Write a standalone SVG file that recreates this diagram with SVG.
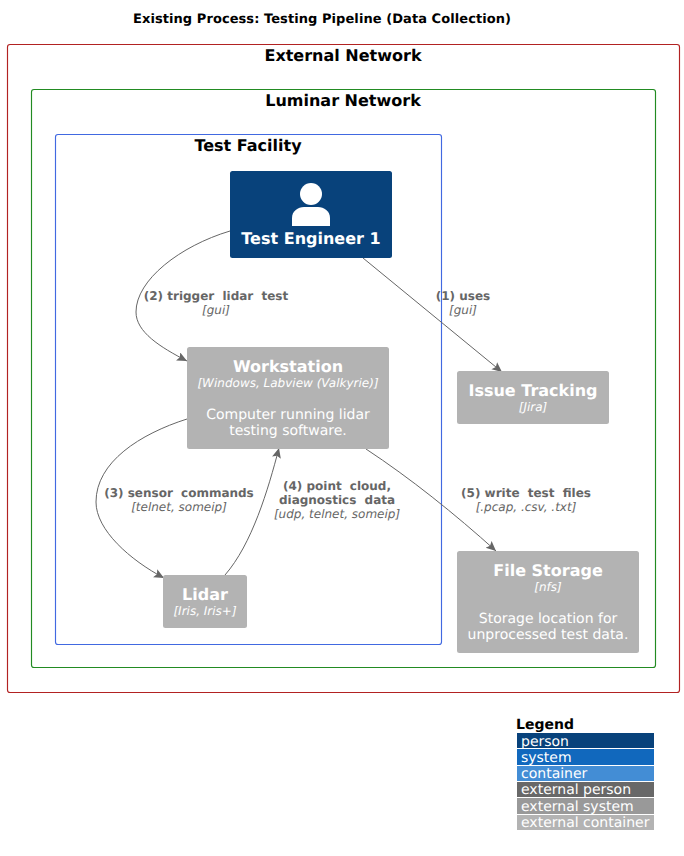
<svg xmlns="http://www.w3.org/2000/svg" width="684" height="856" viewBox="0 0 684 856">
<style>
text{font-family:"DejaVu Sans",sans-serif;text-anchor:middle;text-rendering:geometricPrecision}
.bd{fill:none;stroke-width:1.15}
.t{font-size:16px;font-weight:bold;fill:#000}
.n{font-size:16px;font-weight:bold;fill:#fff}
.s{font-size:12px;font-style:italic;fill:#fff}
.d{font-size:14px;fill:#fff}
.box{fill:#b3b3b3}
.l{font-size:12px;font-weight:bold;fill:#666;word-spacing:4px}
.p{word-spacing:0}
.i{font-size:12px;font-style:italic;fill:#666}
.c{fill:none;stroke:#666;stroke-width:1}
.lg{font-size:14px;fill:#fff;text-anchor:start}
</style>
<defs><marker id="a" markerUnits="userSpaceOnUse" markerWidth="12" markerHeight="10" refX="10" refY="4.5" orient="auto"><path d="M0 0L10 4.5L0 9L2 4.5Z" fill="#666"/></marker></defs>
<rect width="684" height="856" fill="#fff"/>
<text x="322" y="23" font-size="13" font-weight="bold" fill="#000" textLength="378">Existing Process: Testing Pipeline (Data Collection)</text>
<g id="external-network"><rect class="bd" x="7.5" y="44.5" width="672" height="648" rx="2.5" stroke="#b22222"/><text class="t" x="343" y="61">External Network</text></g>
<g id="luminar-network"><rect class="bd" x="31.5" y="89.5" width="624" height="578" rx="2.5" stroke="#228b22"/><text class="t" x="343" y="106">Luminar Network</text></g>
<g id="test-facility"><rect class="bd" x="55.5" y="134.5" width="386" height="510" rx="2.5" stroke="#4169e1"/><text class="t" x="248" y="151">Test Facility</text></g>
<g id="connectors">
<path class="c" marker-end="url(#a)" d="M230 231C180 246 136 280 136 312C136 332 160 347 187 361"/>
<path class="c" marker-end="url(#a)" d="M363 258L502 372"/>
<path class="c" marker-end="url(#a)" d="M187 419C140 434 96 462 96 502C96 530 130 560 164 578"/>
<path class="c" marker-end="url(#a)" d="M225 575C252 544 268 490 279 448"/>
<path class="c" marker-end="url(#a)" d="M366 449C410 478 455 514 496 551"/>
<text class="l" x="216" y="300"><tspan class="p">(2) </tspan>trigger lidar test</text><text class="i" x="216" y="314">[gui]</text>
<text class="l" x="463" y="300"><tspan class="p">(1) </tspan>uses</text><text class="i" x="463" y="314">[gui]</text>
<text class="l" x="179" y="497"><tspan class="p">(3) </tspan>sensor commands</text><text class="i" x="179" y="511">[telnet, someip]</text>
<text class="l" x="337" y="490"><tspan class="p">(4) </tspan>point cloud,</text><text class="l" x="337" y="504">diagnostics data</text><text class="i" x="337" y="518">[udp, telnet, someip]</text>
<text class="l" x="526" y="497"><tspan class="p">(5) </tspan>write test files</text><text class="i" x="526" y="511">[.pcap, .csv, .txt]</text>
</g>
<g id="test-engineer"><rect x="230" y="171" width="162" height="87" rx="2.5" fill="#08427b"/><circle cx="311" cy="194" r="11" fill="#fff"/><path d="M292 226V218C292 211 298 207 304 207H318C324 207 330 211 330 218V226Z" fill="#fff"/><text class="n" x="311" y="244">Test Engineer 1</text></g>
<g id="workstation"><rect class="box" x="187" y="347" width="202" height="102" rx="2.5"/><text class="n" x="288" y="372">Workstation</text><text class="s" x="288" y="387">[Windows, Labview (Valkyrie)]</text><text class="d" x="288" y="419">Computer running lidar</text><text class="d" x="288" y="435">testing software.</text></g>
<g id="lidar"><rect class="box" x="163" y="575" width="84" height="53" rx="2.5"/><text class="n" x="205" y="600">Lidar</text><text class="s" x="205" y="615">[Iris, Iris+]</text></g>
<g id="issue-tracking"><rect class="box" x="457" y="371" width="152" height="53" rx="2.5"/><text class="n" x="533" y="396">Issue Tracking</text><text class="s" x="533" y="411">[Jira]</text></g>
<g id="file-storage"><rect class="box" x="457" y="551" width="182" height="102" rx="2.5"/><text class="n" x="548" y="576">File Storage</text><text class="s" x="548" y="591">[nfs]</text><text class="d" x="548" y="623">Storage location for</text><text class="d" x="548" y="639">unprocessed test data.</text></g>
<g id="legend">
<text x="516" y="729" font-size="14" font-weight="bold" fill="#000" style="text-anchor:start">Legend</text>
<rect x="517" y="733" width="137" height="15" fill="#08427b"/><text class="lg" x="521" y="746">person</text>
<rect x="517" y="749" width="137" height="16" fill="#1168bd"/><text class="lg" x="521" y="762">system</text>
<rect x="517" y="766" width="137" height="15" fill="#438dd5"/><text class="lg" x="521" y="778">container</text>
<rect x="517" y="782" width="137" height="15" fill="#686868"/><text class="lg" x="521" y="794">external person</text>
<rect x="517" y="798" width="137" height="16" fill="#999"/><text class="lg" x="521" y="811">external system</text>
<rect x="517" y="815" width="137" height="15" fill="#b3b3b3"/><text class="lg" x="521" y="827">external container</text>
</g>
</svg>
